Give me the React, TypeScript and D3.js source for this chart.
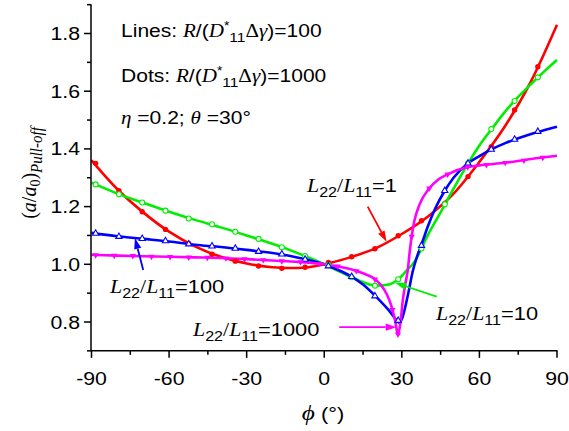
import React from 'react';
import * as d3 from 'd3';

const W = 569;
const H = 431;

// x ticks / y ticks
const xMajor = [-90, -60, -30, 0, 30, 60, 90];
const xMinor = [-75, -45, -15, 15, 45, 75];
const yMajor = [0.8, 1.0, 1.2, 1.4, 1.6, 1.8];
const yMinor = [0.7, 0.9, 1.1, 1.3, 1.5, 1.7, 1.9];

// Lines (R/(D*11 Δγ)=100)
const redLinePhi = [-90, -80, -70, -60, -50, -40, -30, -20, -10, 0, 10, 20, 30, 40, 50, 60, 70, 80, 90];
const redLineVal = [1.36, 1.26, 1.18, 1.113, 1.062, 1.026, 1.003, 0.99, 0.987, 1.0, 1.024, 1.056, 1.105, 1.165, 1.245, 1.355, 1.48, 1.635, 1.83];

const greenLinePhi = [-90, -80, -70, -60, -50, -40, -30, -20, -10, 0, 10, 15, 20, 25, 28.6, 32, 35, 37.6, 40, 45, 50, 55.6, 60, 65, 70, 75, 80, 85, 90];
const greenLineVal = [1.283, 1.245, 1.213, 1.182, 1.154, 1.128, 1.1, 1.071, 1.038, 1.0, 0.958, 0.938, 0.926, 0.93, 0.948, 0.98, 1.01, 1.055, 1.1, 1.18, 1.262, 1.35, 1.412, 1.472, 1.53, 1.58, 1.625, 1.668, 1.708];

const blueLinePhi = [-90, -80, -70, -60, -50, -40, -30, -20, -10, 0, 5, 10, 15, 20, 25, 28, 29, 30, 31, 32.5, 34.2, 36, 37.6, 40, 43, 46.6, 50, 55.6, 60, 65, 70, 75, 80, 85, 90];
const blueLineVal = [1.109, 1.097, 1.088, 1.079, 1.068, 1.06, 1.05, 1.039, 1.023, 1.0, 0.982, 0.96, 0.93, 0.888, 0.84, 0.806, 0.797, 0.81, 0.84, 0.9, 0.975, 1.03, 1.068, 1.13, 1.195, 1.255, 1.3, 1.35, 1.375, 1.4, 1.42, 1.437, 1.452, 1.465, 1.477];

const magentaLinePhi = [-90, -80, -70, -60, -50, -40, -30, -20, -10, 0, 5, 10, 15, 20, 23, 25, 26.4, 27.5, 28.5, 29.5, 30.3, 31.3, 32.3, 33, 33.8, 34.8, 36.8, 40.6, 44, 47.7, 55.5, 60, 70, 80, 90];
const magentaLineVal = [1.033, 1.03, 1.028, 1.026, 1.024, 1.022, 1.018, 1.013, 1.008, 1.0, 0.993, 0.984, 0.969, 0.946, 0.915, 0.88, 0.842, 0.8, 0.757, 0.8, 0.87, 0.93, 0.98, 1.04, 1.096, 1.148, 1.206, 1.263, 1.293, 1.312, 1.337, 1.343, 1.352, 1.365, 1.376];

// Dots (R/(D*11 Δγ)=1000)
const dotPhi = [-88.4, -79.4, -70.4, -61.4, -52.4, -43.4, -34.4, -25.4, -16.4, -7.4, 1.6, 10.6, 19.6, 28.6, 37.6, 46.6, 55.6, 64.6, 73.6, 82.6];
const redDotVal = [1.35, 1.255, 1.182, 1.121, 1.072, 1.035, 1.011, 0.994, 0.986, 0.99, 1.006, 1.026, 1.054, 1.099, 1.151, 1.211, 1.304, 1.408, 1.535, 1.685];
const greenDotVal = [1.277, 1.243, 1.214, 1.186, 1.159, 1.139, 1.113, 1.088, 1.059, 1.029, 0.997, 0.955, 0.926, 0.948, 1.055, 1.208, 1.35, 1.469, 1.566, 1.648];
const blueDotVal = [1.107, 1.096, 1.089, 1.081, 1.07, 1.063, 1.055, 1.044, 1.035, 1.017, 0.994, 0.957, 0.89, 0.805, 1.065, 1.255, 1.35, 1.398, 1.433, 1.46];
const magentaDotPhi = [-88.4, -81.2, -74, -66.8, -59.6, -52.4, -45.2, -38, -30.8, -23.6, -16.4, -9.2, -2, 5.2, 12.4, 19.6, 26.4, 28.5, 33.8, 40.6, 47.7, 55.5, 62.7, 70, 77.2, 84.5];
const magentaDotVal = [1.032, 1.03, 1.029, 1.027, 1.026, 1.024, 1.023, 1.021, 1.018, 1.015, 1.011, 1.008, 1.002, 0.993, 0.977, 0.948, 0.842, 0.757, 1.096, 1.263, 1.312, 1.337, 1.345, 1.352, 1.36, 1.37];

// Arrows [tailPhi, tailVal, tipPhi, tipVal]
const redArrow = [16.8, 1.2, 24.1, 1.078];
const blueArrow = [-70, 0.98, -73.2, 1.091];
const magentaArrow = [5.8, 0.782, 28.0, 0.782];
const greenArrow = [43.5, 0.888, 27.4, 0.936];

const RED = '#ff0000';
const GREEN = '#00ee00';
const BLUE = '#0000ff';
const MAGENTA = '#ff00ff';

const SANS = 'Liberation Sans, Arial, sans-serif';
const SERIF = 'Liberation Serif, Times New Roman, serif';
const SX = 1.15;
const FS = 18.5;

function zip(a: number[], b: number[]): [number, number][] {
  return a.map((v, i) => [v, b[i]]);
}

function Txt({ x, y, anchor = 'start', size = FS, children }: any) {
  return (
    <g transform={`translate(${x},${y}) scale(${SX},1)`}>
      <text textAnchor={anchor} fontSize={size} fontFamily={SANS} fill="#000">
        {children}
      </text>
    </g>
  );
}

function LLabel({ x, y, value }: { x: number; y: number; value: string }) {
  return (
    <Txt x={x} y={y} size={19}>
      <tspan fontFamily={SERIF} fontStyle="italic">L</tspan>
      <tspan dy={5} fontSize={14}>22</tspan>
      <tspan dy={-5} fontFamily={SERIF}>/</tspan>
      <tspan fontFamily={SERIF} fontStyle="italic">L</tspan>
      <tspan dy={5} fontSize={14}>11</tspan>
      <tspan dy={-5}>={value}</tspan>
    </Txt>
  );
}

export default function App() {
  const x = d3.scaleLinear().domain([-90, 90]).range([91.5, 557]);
  const y = d3.scaleLinear().domain([0.7, 1.9]).range([350.85, 4.65]);
  const line = d3
    .line<[number, number]>()
    .x((d) => x(d[0]))
    .y((d) => y(d[1]))
    .curve(d3.curveMonotoneX);

  const x0 = x(-90) - 0.5;
  const y0 = y(0.7);

  const series = [
    { c: RED, d: zip(redLinePhi, redLineVal) },
    { c: GREEN, d: zip(greenLinePhi, greenLineVal) },
    { c: BLUE, d: zip(blueLinePhi, blueLineVal) },
    { c: MAGENTA, d: zip(magentaLinePhi, magentaLineVal) },
  ];

  const triUp = d3.symbol().type(d3.symbolTriangle).size(17)() as string;

  const arrow = (a: number[], color: string, key: string) => {
    const tx = x(a[0]), ty = y(a[1]), hx = x(a[2]), hy = y(a[3]);
    const ang = Math.atan2(hy - ty, hx - tx);
    const L = 11, hw = 3.6;
    const bx = hx - L * Math.cos(ang), by = hy - L * Math.sin(ang);
    const px = -Math.sin(ang) * hw, py = Math.cos(ang) * hw;
    return (
      <g key={key}>
        <line x1={tx} y1={ty} x2={bx} y2={by} stroke={color} strokeWidth={1.8} />
        <path d={`M${hx},${hy}L${bx + px},${by + py}L${bx - px},${by - py}Z`} fill={color} />
      </g>
    );
  };

  return (
    <svg width={W} height={H} style={{ position: 'absolute', left: 0, top: 0, background: '#fff' }}>
      <rect x={0} y={0} width={W} height={H} fill="#fff" />
      {/* curves */}
      {series.map((s, i) => (
        <path key={i} d={line(s.d) as string} fill="none" stroke={s.c} strokeWidth={2.6} strokeLinejoin="round" />
      ))}
      {/* dots */}
      {dotPhi.map((p, i) => (
        <circle key={'r' + i} cx={x(p)} cy={y(redDotVal[i])} r={2.7} fill={RED} />
      ))}
      {dotPhi.map((p, i) => (
        <circle key={'g' + i} cx={x(p)} cy={y(greenDotVal[i])} r={2.5} fill="#fff" stroke={GREEN} strokeWidth={1.1} />
      ))}
      {dotPhi.map((p, i) => (
        <path key={'b' + i} d={triUp} transform={`translate(${x(p)},${y(blueDotVal[i])})`} fill="#fff" stroke={BLUE} strokeWidth={1.1} />
      ))}
      {magentaDotPhi.map((p, i) => (
        <path key={'m' + i} d={triUp} transform={`translate(${x(p)},${y(magentaDotVal[i])}) rotate(180)`} fill={MAGENTA} />
      ))}

      {/* arrows */}
      {arrow(redArrow, RED, 'ar')}
      {arrow(blueArrow, BLUE, 'ab')}
      {arrow(magentaArrow, MAGENTA, 'am')}
      {arrow(greenArrow, GREEN, 'ag')}

      {/* axes */}
      <line x1={x0} y1={y(1.9) - 0.5} x2={x0} y2={y0} stroke="#000" strokeWidth={1.5} />
      <line x1={x0} y1={y0} x2={x(90) + 0.5} y2={y0} stroke="#000" strokeWidth={1.5} />
      {xMajor.map((t) => (
        <g key={'xt' + t}>
          <line x1={x(t)} x2={x(t)} y1={y0} y2={y0 + 7} stroke="#000" strokeWidth={1.5} />
          <Txt x={x(t)} y={385} anchor="middle">{String(t)}</Txt>
        </g>
      ))}
      {xMinor.map((t) => (
        <line key={'xm' + t} x1={x(t)} x2={x(t)} y1={y0} y2={y0 + 4} stroke="#000" strokeWidth={1.5} />
      ))}
      {yMajor.map((t) => (
        <g key={'yt' + t}>
          <line x1={x0 - 7} x2={x0} y1={y(t)} y2={y(t)} stroke="#000" strokeWidth={1.5} />
          <Txt x={80} y={y(t) + 6.5} anchor="end">{t.toFixed(1)}</Txt>
        </g>
      ))}
      {yMinor.map((t) => (
        <line key={'ym' + t} x1={x0 - 4} x2={x0} y1={y(t)} y2={y(t)} stroke="#000" strokeWidth={1.5} />
      ))}

      {/* axis titles */}
      <g transform="translate(36,173) rotate(-90) scale(1,1.1)">
        <text textAnchor="middle" fontSize={20} fontFamily={SERIF} fontStyle="italic">
          <tspan fontStyle="normal">(</tspan>a<tspan fontStyle="normal">/</tspan>a
          <tspan dy={4} fontSize={14} fontStyle="normal">0</tspan>
          <tspan dy={-4} fontStyle="normal">)</tspan>
          <tspan dy={5} fontSize={15}>Pull-off</tspan>
        </text>
      </g>
      <Txt x={323} y={420} anchor="middle" size={19}>
        <tspan fontFamily={SERIF} fontStyle="italic" fontSize={22}>ϕ</tspan> (°)
      </Txt>

      {/* text annotations */}
      <Txt x={121} y={37} size={18.3}>
        Lines: <tspan fontFamily={SERIF} fontStyle="italic">R</tspan>/(
        <tspan fontFamily={SERIF} fontStyle="italic">D</tspan>
        <tspan dy={-7} fontSize={12}>*</tspan>
        <tspan dy={12} fontSize={13.5}>11</tspan>
        <tspan dy={-5} fontFamily={SERIF}>Δ</tspan>
        <tspan fontFamily={SERIF} fontStyle="italic">γ</tspan>)=100
      </Txt>
      <Txt x={121} y={81.5} size={18.3}>
        Dots: <tspan fontFamily={SERIF} fontStyle="italic">R</tspan>/(
        <tspan fontFamily={SERIF} fontStyle="italic">D</tspan>
        <tspan dy={-7} fontSize={12}>*</tspan>
        <tspan dy={12} fontSize={13.5}>11</tspan>
        <tspan dy={-5} fontFamily={SERIF}>Δ</tspan>
        <tspan fontFamily={SERIF} fontStyle="italic">γ</tspan>)=1000
      </Txt>
      <Txt x={121} y={124} size={18.3}>
        <tspan fontFamily={SERIF} fontStyle="italic">η</tspan> =0.2; <tspan fontFamily={SERIF} fontStyle="italic">θ</tspan> =30°
      </Txt>

      <LLabel x={307} y={192} value="1" />
      <LLabel x={110} y={293} value="100" />
      <LLabel x={193} y={336} value="1000" />
      <LLabel x={436} y={319.5} value="10" />
    </svg>
  );
}
